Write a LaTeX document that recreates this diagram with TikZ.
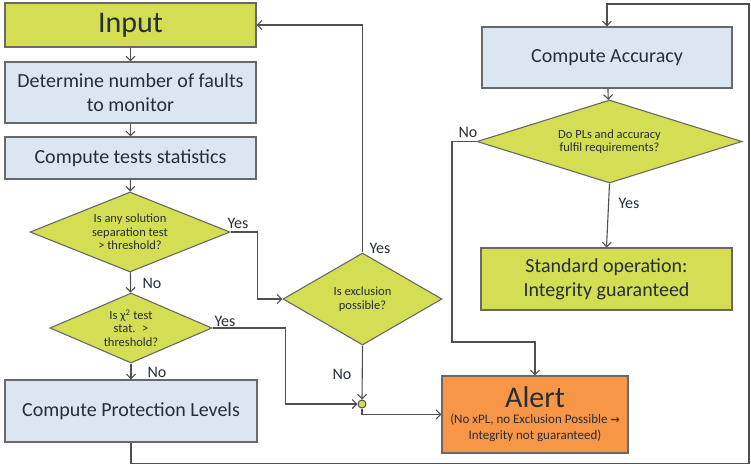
\documentclass[tikz,border=0pt]{standalone}
\usepackage{fontspec}
\setmainfont{Carlito}
\newfontfamily\arrowfont{DejaVu Sans}
\usepackage{tikz}
\usetikzlibrary{shapes.geometric, arrows, arrows.meta, positioning}

\definecolor{olivefill}{RGB}{212,222,82}
\definecolor{bluefill}{RGB}{220,230,242}
\definecolor{alertfill}{RGB}{247,150,70}
\definecolor{edgegray}{RGB}{105,105,105}
\definecolor{linegray}{RGB}{80,80,80}
\definecolor{textdark}{RGB}{38,46,58}

\tikzset{
  process/.style={rectangle, draw=edgegray, line width=1.1pt, fill=bluefill, text=textdark,
    inner sep=0pt, align=center, font=\fontsize{20}{24}\selectfont},
  decision/.style={diamond, draw=edgegray, line width=1.1pt, fill=olivefill, text=textdark,
    inner sep=0pt, align=center, font=\fontsize{12.5}{13.5}\selectfont},
  flow/.style={->, >={Straight Barb[length=4.5pt,width=9pt]}, draw=linegray, line width=1.1pt},
  answer/.style={text=textdark, font=\fontsize{16}{18}\selectfont}
}

\begin{document}
\begin{tikzpicture}[x=1pt, y=-1pt]
\useasboundingbox (0,0) rectangle (751,467);

% left column
\node[process, fill=olivefill, minimum width=251, minimum height=44, font=\fontsize{30}{32}\selectfont] (input) at (130.5,25) {Input};
\node[process, minimum width=251, minimum height=61] (faults) at (130.5,92.5) {Determine number of faults\\to monitor};
\node[process, minimum width=251, minimum height=42] (stats) at (130.5,158) {Compute tests statistics};
\node[decision, aspect=2.5, minimum width=200, minimum height=80] (sepTest) at (130,232) {Is any solution\\separation test\\> threshold?};
\node[decision, aspect=2.3, minimum width=162, minimum height=70] (chiTest) at (131,328) {Is χ\textsuperscript{2} test\\stat. \ >\\threshold?};
\node[process, minimum width=252, minimum height=62] (protLevels) at (131,411) {Compute Protection Levels};

% middle
\node[decision, aspect=1.7, minimum width=159, minimum height=92] (exclusion) at (362.5,299) {Is exclusion\\possible?};
\node[circle, draw=linegray, line width=1pt, fill=olivefill, minimum size=8, inner sep=0pt] (junc) at (362,404) {};

% right column
\node[process, minimum width=250, minimum height=61] (accuracy) at (607,57.5) {Compute Accuracy};
\node[decision, aspect=3.2, minimum width=265, minimum height=83] (reqTest) at (609.5,141.5) {Do PLs and accuracy\\fulfil requirements?};
\node[process, fill=olivefill, minimum width=251, minimum height=62] (standard) at (606.5,279) {Standard operation:\\Integrity guaranteed};
\node[process, fill=alertfill, minimum width=186, minimum height=77, font=\fontsize{13}{16}\selectfont] (alert) at (535,414.5)
  {{\fontsize{30}{30}\selectfont Alert}\\(No xPL, no Exclusion Possible {\arrowfont\bfseries\fontsize{11}{11}\selectfont →}\\Integrity not guaranteed)};

% connectors
\draw[flow] (input) -- (faults);
\draw[flow] (faults) -- (stats);
\draw[flow] (stats) -- (sepTest);
\draw[flow] (sepTest) -- (chiTest);
\draw[flow] (chiTest) -- (protLevels);
\draw[flow] (sepTest.east) -- ++(27,0) |- (exclusion.west);
\draw[flow] (chiTest.east) -- ++(73,0) |- (junc.west);
\draw[flow] (exclusion.south) -- (junc.north);
\draw[flow] (exclusion.north) |- (input.east);
\draw[flow] (junc.south) |- (alert.west);
\draw[flow] (protLevels.south) -- ++(0,21) -| (749,4) -| (accuracy.north);
\draw[flow] (accuracy) -- (reqTest);
\draw[flow] (reqTest.south) -- (standard.north);
\draw[flow] (reqTest.west) -| (452,342) -| (alert.north);

% answers
\node[answer] (yesSep) at (238,223) {Yes};
\node[answer] (noSep) at (152,283) {No};
\node[answer] (yesChi) at (225,321) {Yes};
\node[answer] (noChi) at (157,372) {No};
\node[answer] (yesExcl) at (380,248) {Yes};
\node[answer] (noExcl) at (342,374) {No};
\node[answer] (noReq) at (468,132) {No};
\node[answer] (yesReq) at (629,203) {Yes};

\end{tikzpicture}
\end{document}
